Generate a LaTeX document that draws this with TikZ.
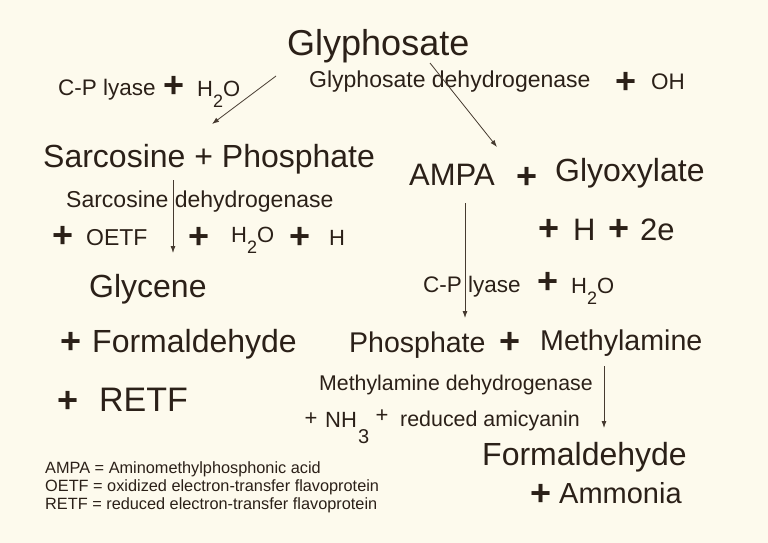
\documentclass[tikz,border=0pt]{standalone}
\usepackage{fontspec}
\setmainfont{Liberation Sans}
\usetikzlibrary{arrows.meta}
\definecolor{bgc}{RGB}{253,250,237}
\definecolor{ink}{RGB}{43,32,24}
\definecolor{arr}{RGB}{70,58,48}
\newcommand{\fs}[1]{\fontsize{#1}{#1}\selectfont}
\begin{document}
\begin{tikzpicture}[x=1pt,y=-1pt,
  txt/.style={anchor=base west,inner sep=0pt,text=ink},
  bigplus/.style={anchor=base,inner sep=0pt,text=ink,font=\fs{36}\bfseries},
  smallplus/.style={anchor=base,inner sep=0pt,text=ink,font=\fs{22}},
  rxn/.style={draw=arr,line width=0.8pt,-{Latex[length=7pt,width=5pt]}}]
\useasboundingbox[fill=bgc] (0,0) rectangle (768,543);
% top
\node[txt,font=\fs{36}] (gly) at (287,56) {Glyphosate};
\node[txt,font=\fs{22.5}] (cpl1) at (58,95) {C-P lyase};
\node[bigplus] (p1) at (174,97) {+};
\node[txt,font=\fs{22}] (h2o1) at (197,96) {H\raisebox{-11pt}{\fs{18}2}O};
\node[txt,font=\fs{23}] (gdh) at (309,88) {Glyphosate dehydrogenase};
\node[bigplus] (p2) at (626,93) {+};
\node[txt,font=\fs{22.5}] (oh) at (651,89) {OH};
% left branch
\node[txt,font=\fs{32}] (sarc) at (43,167) {Sarcosine + Phosphate};
\node[txt,font=\fs{23}] (sdh) at (66,207) {Sarcosine dehydrogenase};
\node[bigplus] (p3) at (63,247) {+};
\node[txt,font=\fs{23}] (oetf) at (86,245) {OETF};
\node[bigplus] (p4) at (199,248) {+};
\node[txt,font=\fs{22}] (h2o2) at (231,242) {H\raisebox{-11pt}{\fs{18}2}O};
\node[bigplus] (p5) at (300,248) {+};
\node[txt,font=\fs{22}] (h1) at (329,245) {H};
\node[txt,font=\fs{32}] (glyc) at (89,297) {Glycene};
\node[bigplus] (p6) at (71,353) {+};
\node[txt,font=\fs{32}] (form1) at (92,352) {Formaldehyde};
\node[bigplus] (p7) at (68,412) {+};
\node[txt,font=\fs{34}] (retf) at (99,411) {RETF};
% legend
\node[txt,font=\fs{16.3}] (leg1) at (45,473) {AMPA = Aminomethylphosphonic acid};
\node[txt,font=\fs{16.3}] (leg2) at (45,491) {OETF = oxidized electron-transfer flavoprotein};
\node[txt,font=\fs{16.3}] (leg3) at (45,509) {RETF = reduced electron-transfer flavoprotein};
% right branch
\node[txt,font=\fs{31}] (ampa) at (409,185) {AMPA};
\node[bigplus] (p8) at (527,188) {+};
\node[txt,font=\fs{32}] (glyox) at (555,181) {Glyoxylate};
\node[bigplus] (p9) at (549,240) {+};
\node[txt,font=\fs{31}] (h2) at (573,240) {H};
\node[bigplus] (p10) at (619,240) {+};
\node[txt,font=\fs{31}] (e2) at (640,240) {2e};
\node[txt,font=\fs{22.5}] (cpl2) at (423,292) {C-P lyase};
\node[bigplus] (p11) at (548,293) {+};
\node[txt,font=\fs{22}] (h2o3) at (571,293) {H\raisebox{-11pt}{\fs{18}2}O};
\node[txt,font=\fs{28.5}] (phos) at (349,352) {Phosphate};
\node[bigplus] (p12) at (510,353) {+};
\node[txt,font=\fs{28.6}] (meth) at (540,350) {Methylamine};
\node[txt,font=\fs{21.3}] (mdh) at (319,390) {Methylamine dehydrogenase};
\node[smallplus] (p13) at (311,425) {+};
\node[txt,font=\fs{22}] (nh) at (325,427) {NH};
\node[txt,font=\fs{20}] (three) at (358,443) {3};
\node[smallplus] (p14) at (382,422) {+};
\node[txt,font=\fs{21.4}] (ramc) at (400,426) {reduced amicyanin};
\node[txt,font=\fs{32}] (form2) at (482,465) {Formaldehyde};
\node[bigplus] (p15) at (541,505) {+};
\node[txt,font=\fs{29}] (amm) at (559,503) {Ammonia};
% arrow end points
\coordinate (a1s) at (276,76); \coordinate (a1e) at (212,124);
\coordinate (a2s) at (430,63); \coordinate (a2e) at (497,147);
\coordinate (a3s) at (173,180); \coordinate (a3e) at (173,253);
\coordinate (a4s) at (465,203); \coordinate (a4e) at (465,318);
\coordinate (a5s) at (604,366); \coordinate (a5e) at (604,428);
\draw[rxn] (a1s) -- (a1e);
\draw[rxn] (a2s) -- (a2e);
\draw[rxn] (a3s) -- (a3e);
\draw[rxn] (a4s) -- (a4e);
\draw[rxn] (a5s) -- (a5e);
\end{tikzpicture}
\end{document}
